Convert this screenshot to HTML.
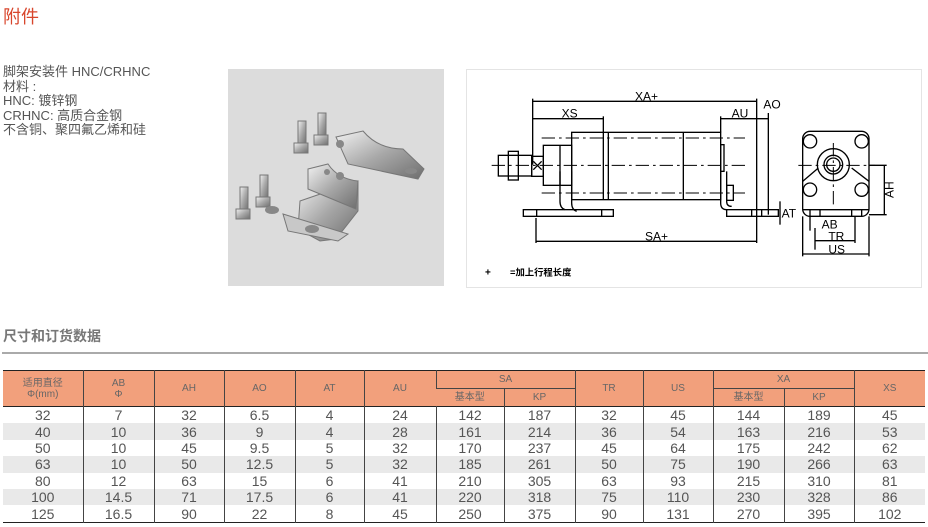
<!DOCTYPE html>
<html><head><meta charset="utf-8"><style>
body{margin:0;width:928px;height:527px;background:#fff;position:relative;overflow:hidden;font-family:"Liberation Sans","Noto Sans CJK SC",sans-serif;color:#555}
.abs{position:absolute}
.title{left:3px;top:3px;font-size:18px;color:#d8462c}
.desc{left:3px;top:65px;font-size:13px;line-height:14.5px;color:#555}
.sec{left:3px;top:326px;font-size:14px;font-weight:bold;color:#777}
.rule{left:2px;top:352px;width:926px;height:2px;background:#aaa}
table{position:absolute;left:3px;top:370px;border-collapse:collapse;table-layout:fixed;width:922px;font-family:"Liberation Sans Narrow","Liberation Sans","Noto Sans CJK SC",sans-serif}
td{text-align:center;padding:0;font-size:14px;color:#555;border-left:1px solid #444;height:16.4px;line-height:16px}
td:first-child{border-left:none}
tr.h td{background:#f2a07c;font-size:10px;color:#666;font-family:"Liberation Sans","Noto Sans CJK SC",sans-serif;line-height:11px}
tr.h td.s{height:17px}
tr.g td{background:#e9e9e9}
</style></head><body>
<div class="abs title">附件</div>
<div class="abs desc">脚架安装件 HNC/CRHNC<br>材料 :<br>HNC: 镀锌钢<br>CRHNC: 高质合金钢<br>不含铜、聚四氟乙烯和硅</div>
<div class="abs" style="left:228px;top:69px;width:216px;height:217px;background:#dcdcdc">
<svg width="216" height="217" viewBox="0 0 216 217">
<defs><linearGradient id="m" x1="0" y1="0" x2="1" y2="1"><stop offset="0" stop-color="#f2f2f2"/><stop offset=".5" stop-color="#a8a8a8"/><stop offset="1" stop-color="#6e6e6e"/></linearGradient></defs>
<g fill="url(#m)" stroke="#777" stroke-width="1">
<path d="M72 132 L130 112 L130 142 L108 170 L92 172 L70 160 Z"/>
<path d="M55 145 L120 165 L110 172 L60 162 Z" fill="#c8c8c8"/>
<path d="M80 100 L100 95 Q110 110 130 112 L128 140 L80 120 Z"/>
<path d="M108 68 L135 62 Q150 80 175 80 L196 100 L190 110 L120 95 Z"/>
<rect x="12" y="118" width="8" height="24"/><rect x="8" y="140" width="14" height="10"/>
<rect x="32" y="106" width="8" height="24"/><rect x="28" y="128" width="14" height="10"/>
<rect x="70" y="52" width="8" height="24"/><rect x="66" y="74" width="14" height="10"/>
<rect x="90" y="44" width="8" height="24"/><rect x="86" y="66" width="14" height="10"/>
</g>
<g fill="#888"><ellipse cx="44" cy="141" rx="7" ry="4"/><ellipse cx="84" cy="160" rx="7" ry="4"/><ellipse cx="183" cy="102" rx="6" ry="3"/><circle cx="112" cy="107" r="4"/><circle cx="99" cy="103" r="3"/><circle cx="112" cy="75" r="4"/></g>
</svg></div>
<div class="abs" style="left:466px;top:69px;width:454px;height:217px;border:1px solid #e4e4e4"></div>
<svg class="abs" style="left:465px;top:68px" width="460" height="220" viewBox="0 0 1380 660">
<g fill="none" stroke="#000" stroke-width="4">
<line x1="203" y1="100" x2="875" y2="100"/><line x1="203" y1="92" x2="203" y2="290"/><line x1="875" y1="92" x2="875" y2="525"/>
<line x1="203" y1="152" x2="415" y2="152"/><line x1="415" y1="145" x2="415" y2="193"/>
<line x1="767" y1="152" x2="910" y2="152"/><line x1="767" y1="145" x2="767" y2="193"/><line x1="910" y1="135" x2="910" y2="440"/>
<rect x="320" y="193" width="447" height="202"/><line x1="430" y1="193" x2="430" y2="395"/><line x1="655" y1="193" x2="655" y2="395"/><line x1="415" y1="193" x2="415" y2="395"/>
<rect x="235" y="232" width="85" height="120"/><line x1="285" y1="232" x2="285" y2="352"/>
<rect x="200" y="265" width="35" height="60"/><line x1="205" y1="280" x2="230" y2="305"/><line x1="230" y1="280" x2="205" y2="305"/>
<rect x="100" y="262" width="100" height="62"/><rect x="130" y="250" width="30" height="86"/>
<path d="M285 310 L285 400 Q285 420 300 425 M320 310 L320 405 Q320 425 335 430"/>
<rect x="175" y="425" width="270" height="20"/>
<line x1="215" y1="425" x2="215" y2="445"/><line x1="410" y1="425" x2="410" y2="445"/>
<rect x="767" y="230" width="10" height="80"/>
<path d="M767 310 L767 405 Q767 425 785 425 M785 310 L785 400 Q785 415 800 415"/>
<rect x="785" y="352" width="20" height="45"/>
<rect x="785" y="425" width="155" height="20"/><line x1="860" y1="425" x2="860" y2="445"/><line x1="890" y1="425" x2="890" y2="445"/>
<line x1="945" y1="400" x2="945" y2="470"/>
<line x1="213" y1="450" x2="213" y2="525"/><line x1="213" y1="520" x2="875" y2="520"/>
<rect x="1013" y="190" width="199" height="255" rx="22"/>
<line x1="1013" y1="425" x2="1212" y2="425"/>
<line x1="1035" y1="425" x2="1035" y2="445"/><line x1="1065" y1="425" x2="1065" y2="445"/><line x1="1160" y1="425" x2="1160" y2="445"/><line x1="1190" y1="425" x2="1190" y2="445"/>
<path d="M1013 340 L1060 300 M1212 340 L1160 300"/>
<circle cx="1035" cy="220" r="20"/><circle cx="1190" cy="220" r="20"/><circle cx="1035" cy="365" r="20"/><circle cx="1190" cy="365" r="20"/>
<circle cx="1105" cy="290" r="48"/><circle cx="1105" cy="290" r="28"/><circle cx="1105" cy="290" r="20"/>
<line x1="1212" y1="292" x2="1265" y2="292"/><line x1="1212" y1="440" x2="1265" y2="440"/><line x1="1258" y1="292" x2="1258" y2="440"/>
<line x1="1035" y1="445" x2="1035" y2="488"/><line x1="1050" y1="480" x2="1050" y2="545"/><line x1="1050" y1="518" x2="1170" y2="518"/><line x1="1170" y1="445" x2="1170" y2="525"/>
<line x1="1013" y1="445" x2="1013" y2="565"/><line x1="1212" y1="445" x2="1212" y2="565"/><line x1="1013" y1="558" x2="1212" y2="558"/>
</g>
<g stroke="#000" stroke-width="3" stroke-dasharray="40 12 8 12">
<line x1="80" y1="292" x2="840" y2="292"/><line x1="230" y1="210" x2="840" y2="210"/><line x1="230" y1="375" x2="840" y2="375"/>
<line x1="1000" y1="292" x2="1230" y2="292"/><line x1="1105" y1="225" x2="1105" y2="420"/>
</g>
<g font-family="Liberation Sans,sans-serif" font-size="36" fill="#000">
<text x="510" y="98">XA+</text><text x="290" y="148">XS</text><text x="800" y="148">AU</text><text x="895" y="122">AO</text>
<text x="950" y="448">AT</text><text x="540" y="518">SA+</text>
<text x="1070" y="482">AB</text><text x="1090" y="518">TR</text><text x="1090" y="556">US</text>
<text transform="translate(1285 390) rotate(-90)">AH</text>
<text x="60" y="622" font-size="30" font-weight="bold">+</text>
<text x="135" y="622" font-size="28" font-weight="bold" font-family="Liberation Sans,Noto Sans CJK SC,sans-serif">=加上行程长度</text>
</g>
</svg>
<div class="abs sec">尺寸和订货数据</div>
<div class="abs rule"></div>
<table>
<colgroup><col style="width:80px"><col style="width:71px"><col style="width:70px"><col style="width:71px"><col style="width:69px"><col style="width:72px"><col style="width:68px"><col style="width:71px"><col style="width:68px"><col style="width:70px"><col style="width:71px"><col style="width:70px"><col style="width:71px"></colgroup>
<tr class="h" style="border-top:1.5px solid #222"><td rowspan="2">适用直径<br>Φ(mm)</td><td rowspan="2">AB<br>Φ</td><td rowspan="2">AH</td><td rowspan="2">AO</td><td rowspan="2">AT</td><td rowspan="2">AU</td><td colspan="2" class="s" style="border-bottom:1px solid #444">SA</td><td rowspan="2">TR</td><td rowspan="2">US</td><td colspan="2" class="s" style="border-bottom:1px solid #444">XA</td><td rowspan="2">XS</td></tr>
<tr class="h"><td class="s">基本型</td><td class="s">KP</td><td class="s">基本型</td><td class="s">KP</td></tr>
<tr style="border-top:1.5px solid #222"><td>32</td><td>7</td><td>32</td><td>6.5</td><td>4</td><td>24</td><td>142</td><td>187</td><td>32</td><td>45</td><td>144</td><td>189</td><td>45</td></tr>
<tr class="g"><td>40</td><td>10</td><td>36</td><td>9</td><td>4</td><td>28</td><td>161</td><td>214</td><td>36</td><td>54</td><td>163</td><td>216</td><td>53</td></tr>
<tr><td>50</td><td>10</td><td>45</td><td>9.5</td><td>5</td><td>32</td><td>170</td><td>237</td><td>45</td><td>64</td><td>175</td><td>242</td><td>62</td></tr>
<tr class="g"><td>63</td><td>10</td><td>50</td><td>12.5</td><td>5</td><td>32</td><td>185</td><td>261</td><td>50</td><td>75</td><td>190</td><td>266</td><td>63</td></tr>
<tr><td>80</td><td>12</td><td>63</td><td>15</td><td>6</td><td>41</td><td>210</td><td>305</td><td>63</td><td>93</td><td>215</td><td>310</td><td>81</td></tr>
<tr class="g"><td>100</td><td>14.5</td><td>71</td><td>17.5</td><td>6</td><td>41</td><td>220</td><td>318</td><td>75</td><td>110</td><td>230</td><td>328</td><td>86</td></tr>
<tr style="border-bottom:1.5px solid #222"><td>125</td><td>16.5</td><td>90</td><td>22</td><td>8</td><td>45</td><td>250</td><td>375</td><td>90</td><td>131</td><td>270</td><td>395</td><td>102</td></tr>
</table>
</body></html>
